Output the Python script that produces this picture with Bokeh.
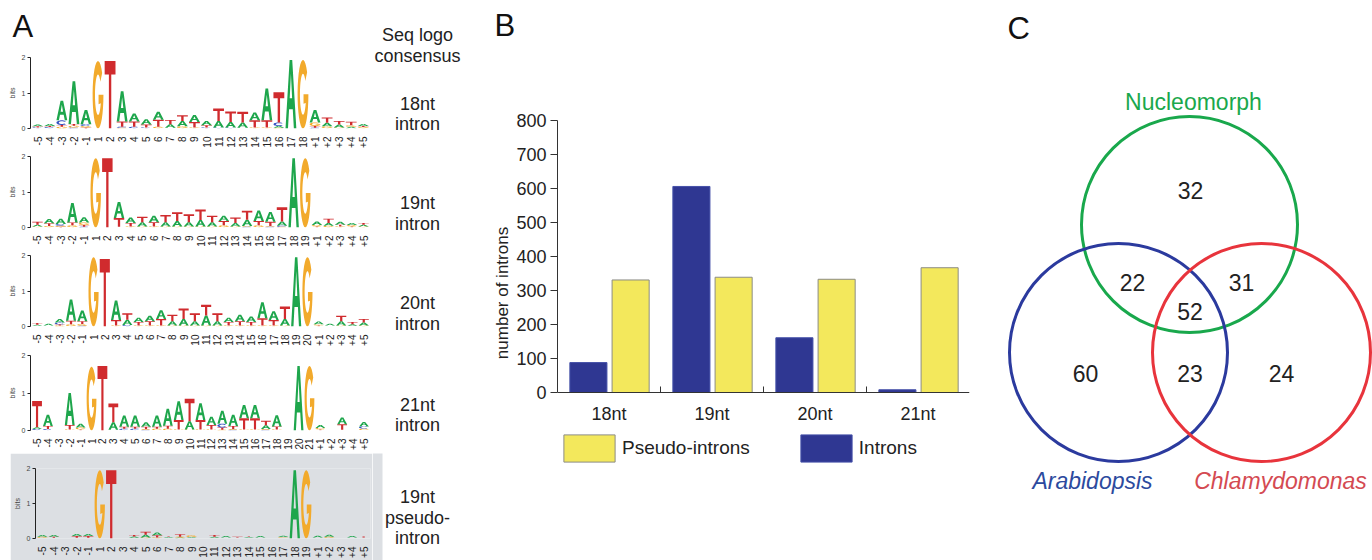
import math
from bokeh.plotting import figure
from bokeh.layouts import row, column
from bokeh.models import Range1d, FixedTicker, Legend, LegendItem, ColumnDataSource, Spacer
from bokeh.transform import dodge
from bokeh.core.properties import value
from bokeh.embed import file_html
from bokeh.resources import INLINE

FONT = "Liberation Sans"

# ---------------- Panel A data: information content (bits) per base ----------------
lab18 = ["-5", "-4", "-3", "-2", "-1"] + [str(i) for i in range(1, 19)] + ["+1", "+2", "+3", "+4", "+5"]
A18 = [.05, .06, .55, 1.2, .4, 0, 0, .85, .22, .15, .22, .1, .15, .2, .12, .18, .15, .15, .22, .9, .05, 1.93, 0, .35, .1, .08, .04, .06]
C18 = [.02, .03, .13, .03, .05, 0, 0, .03, .04, .02, .01, .01, .01, .01, .02, .02, .02, .01, .01, .01, .1, 0, 0, .02, .01, .01, .01, .01]
G18 = [.01, .01, .05, .05, .04, 1.9, 0, .02, .01, .01, .04, .01, .05, .02, .01, .01, .01, .01, .02, .02, .02, 0, 1.93, .1, .05, .02, .04, .03]
T18 = [.03, .03, .05, .05, .03, 0, 1.9, .15, .15, .08, .2, .12, .16, .15, .06, .35, .3, .3, .2, .2, .85, 0, 0, .05, .15, .1, .1, .03]

lab19 = ["-5", "-4", "-3", "-2", "-1"] + [str(i) for i in range(1, 20)] + ["+1", "+2", "+3", "+4", "+5"]
A19 = [.05, .12, .15, .55, .15, 0, 0, .45, .15, .12, .18, .12, .15, .12, .18, .12, .15, .1, .18, .3, .28, .12, 1.95, 0, .1, .08, .08, .06, .05]
C19 = [.01, .01, .05, .01, .02, 0, 0, .01, .01, .01, .01, .01, .01, .01, .01, .01, .01, .01, .02, .01, .02, .03, 0, 0, .01, .01, .01, .01, .01]
G19 = [.02, .03, .03, .05, .07, 1.95, 0, .01, .02, .02, .02, .02, .02, .02, .02, .02, .05, .02, .02, .05, .02, .02, 0, 1.95, .04, .04, .02, .04, .02]
T19 = [.08, .08, .02, .08, .05, 0, 1.95, .25, .1, .15, .12, .2, .25, .22, .3, .18, .12, .15, .25, .12, .12, .4, 0, 0, .02, .12, .05, .02, .05]

lab20 = ["-5", "-4", "-3", "-2", "-1"] + [str(i) for i in range(1, 21)] + ["+1", "+2", "+3", "+4", "+5"]
A20 = [.03, .05, .1, .6, .3, 0, 0, .55, .15, .12, .15, .25, .12, .18, .12, .28, .12, .12, .18, .15, .45, .25, .18, 1.95, 0, .08, .05, .12, .04, .08]
C20 = [.01, .01, .05, .01, .02, 0, 0, .01, .03, .01, .01, .01, .01, .01, .01, .01, .01, .01, .01, .01, .01, .01, .01, 0, 0, .01, .01, .01, .01, .01]
G20 = [.01, .01, .03, .05, .05, 1.95, 0, .02, .01, .02, .02, .02, .02, .02, .02, .02, .02, .02, .02, .02, .02, .02, .02, 0, 1.95, .03, .01, .02, .01, .02]
T20 = [.05, .01, .03, .1, .08, 0, 1.9, .15, .18, .1, .12, .18, .18, .3, .22, .3, .22, .1, .12, .1, .2, .15, .35, 0, 0, .02, .01, .15, .07, .1]

lab21 = ["-5", "-4", "-3", "-2", "-1"] + [str(i) for i in range(1, 22)] + ["+1", "+2", "+3", "+4", "+5"]
A21 = [.05, .3, .01, .85, .1, 0, 0, .2, .3, .3, .12, .3, .45, .5, .22, .45, .22, .35, .3, .35, .35, .1, .3, 0, 1.72, 0, .08, 0, .18, 0, .12]
C21 = [.03, .03, 0, .01, .01, 0, 0, .01, .04, .04, .02, .01, .01, .01, .01, .01, .01, .1, .02, .01, .01, .02, .01, 0, 0, 0, .01, 0, .01, 0, .06]
G21 = [.01, .01, .01, .02, .05, 1.7, 0, .01, .01, .01, .02, .04, .04, .02, .02, .02, .02, .02, .02, .02, .02, .02, .02, 0, 0, 1.72, .04, 0, .01, 0, .04]
T21 = [.7, .08, .01, .12, .02, 0, 1.72, .5, .05, .05, .06, .05, .08, .25, .6, .25, .12, .06, .08, .3, .3, .12, .08, 0, 0, 0, .02, 0, .15, 0, .01]

labP = lab19
AP = [.05, .05, .01, .06, .06, 0, 0, .01, .04, .08, .08, .02, .02, .02, .01, .03, .04, .01, .02, .04, .01, .04, 1.95, 0, .05, .06, 0, .04, .01]
CP = [.01, .01, .01, .01, .01, 0, 0, 0, .01, .01, .01, .01, .01, .01, .01, .01, .01, .01, .01, .01, .01, .01, 0, 0, .01, .01, 0, .01, .01]
GP = [.03, .01, .01, .01, .01, 1.95, 0, 0, .01, .02, .02, .01, .02, .05, .01, .01, .01, .01, .01, .01, .01, .02, 0, 1.95, .01, .03, 0, .01, .01]
TP = [.01, .03, .01, .05, .05, 0, 1.95, 0, .04, .08, .06, .02, .07, .01, .01, .05, .01, .02, .02, .01, .01, .01, 0, 0, .01, .01, 0, .01, .03]

logo_names = ["Seq logo\nconsensus", "18nt\nintron", "19nt\nintron", "20nt\nintron", "21nt\nintron", "19nt\npseudo-\nintron"]

# ---------------- Panel B data ----------------
lengths = ["18nt", "19nt", "20nt", "21nt"]
introns = [88, 606, 161, 8]
pseudo_introns = [331, 339, 333, 367]

# ---------------- Panel C data ----------------
sets = ["Nucleomorph", "Arabidopsis", "Chlamydomonas"]
only_nucleo, nucleo_arab, nucleo_chlamy, all_three = 32, 22, 31, 52
only_arab, arab_chlamy, only_chlamy = 60, 23, 24

# ---------------- styling ----------------
BASE_COLORS = {"A": "#1ea64c", "C": "#3552c2", "G": "#f2aa2c", "T": "#d02b2e"}
BLUE = "#2f3792"
YELLOW = "#f3e85c"
GREY_BOX = "#dcdfe3"


def arc(cx, cy, rx, ry, a0, a1, n=28):
    pts = []
    for i in range(n + 1):
        a = math.radians(a0 + (a1 - a0) * i / n)
        pts.append((cx + rx * math.cos(a), cy + ry * math.sin(a)))
    return pts


SHAPES = {
    "A": [[(0, 0), (0.38, 1), (0.62, 1), (1, 0), (0.77, 0), (0.67, 0.28), (0.33, 0.28), (0.23, 0)],
          [(0.39, 0.44), (0.61, 0.44), (0.5, 0.8)]],
    "T": [[(0, 1), (1, 1), (1, 0.8), (0.61, 0.8), (0.61, 0), (0.39, 0), (0.39, 0.8), (0, 0.8)]],
    "C": [arc(.5, .5, .5, .5, 40, 320) + arc(.5, .5, .28, .3, 320, 40)],
    "G": [arc(.5, .5, .5, .5, 40, 360) + [(1, 0.5), (0.55, 0.5), (0.55, 0.36)] + arc(.5, .5, .28, .3, 335, 40)],
}


def logo_source(A, C, G, T):
    heights = {"A": A, "C": C, "G": G, "T": T}
    xs, ys, cols = [], [], []
    for i in range(len(A)):
        stack = sorted([(heights[b][i], b) for b in "ACGT"])
        y0 = 0.0
        for h, b in stack:
            if h >= 0.02:
                rx, ry = [], []
                for ring in SHAPES[b]:
                    rx.append([i - 0.45 + u * 0.9 for u, v in ring])
                    ry.append([y0 + v * h for u, v in ring])
                xs.append([rx])
                ys.append([ry])
                cols.append(BASE_COLORS[b])
            y0 += h
    return ColumnDataSource(dict(xs=xs, ys=ys, color=cols))


def plain(p):
    p.axis.visible = False
    p.xgrid.visible = False
    p.ygrid.visible = False
    p.outline_line_color = None


def logo_fig(A, C, G, T, labels, height, top, bottom, bg="white", width=372, left=30, right=2):
    n = len(labels)
    p = figure(width=width, height=height, x_range=Range1d(-0.6, n - 0.4), y_range=Range1d(0, 2.0),
               output_backend="svg", toolbar_location=None,
               min_border_left=left, min_border_right=right, min_border_top=top, min_border_bottom=bottom)
    p.background_fill_color = bg
    p.border_fill_color = bg
    p.outline_line_color = None
    p.xgrid.visible = False
    p.ygrid.visible = False
    p.multi_polygons(xs="xs", ys="ys", fill_color="color", line_color=None, source=logo_source(A, C, G, T))
    xa = p.xaxis[0]
    xa.ticker = FixedTicker(ticks=list(range(n)))
    xa.major_label_overrides = {i: lab for i, lab in enumerate(labels)}
    xa.major_label_orientation = math.pi / 2
    xa.axis_line_color = None
    xa.major_tick_line_color = None
    xa.minor_tick_line_color = None
    xa.major_label_standoff = 2
    xa.major_label_text_font = FONT
    xa.major_label_text_font_size = "10px"
    xa.major_label_text_color = "#222222"
    ya = p.yaxis[0]
    ya.ticker = FixedTicker(ticks=[0, 1, 2])
    ya.axis_label = "bits"
    ya.axis_label_text_font = FONT
    ya.axis_label_text_font_style = "normal"
    ya.axis_label_text_font_size = "7px"
    ya.axis_label_standoff = 3
    ya.major_label_text_font = FONT
    ya.major_label_text_font_size = "7px"
    ya.major_label_standoff = 2
    ya.major_tick_in = 0
    ya.major_tick_out = 3
    ya.minor_tick_line_color = None
    ya.axis_line_color = "#222222"
    ya.major_tick_line_color = "#222222"
    return p


# header of panel A
hA = figure(width=372, height=51, x_range=Range1d(0, 372), y_range=Range1d(51, 0),
            output_backend="svg", toolbar_location=None, min_border=0)
plain(hA)
hA.text(x=[12], y=[26], text=["A"], text_font=value(FONT), text_font_size="31px",
        text_color="#111111", text_baseline="middle", text_align="left")

l1 = logo_fig(A18, C18, G18, T18, lab18, 99, 6, 18)
l2 = logo_fig(A19, C19, G19, T19, lab19, 99, 6, 18)
l3 = logo_fig(A20, C20, G20, T20, lab20, 99, 6, 18)
l4 = logo_fig(A21, C21, G21, T21, lab21, 105, 7, 23)
l5 = logo_fig(AP, CP, GP, TP, labP, 107, 15, 20, bg=GREY_BOX, width=362, left=20, right=2)

colA = column(row(hA), l1, l2, l3, l4, row(Spacer(width=10, height=107), l5), spacing=0)

# right-hand labels of panel A
lab = figure(width=106, height=560, x_range=Range1d(0, 106), y_range=Range1d(560, 0),
             output_backend="svg", toolbar_location=None, min_border=0)
plain(lab)
lab.quad(left=[0], right=[10], top=[453], bottom=[560], fill_color=GREY_BOX, line_color=None)
label_centres = [45, 113.5, 213, 313, 414.5, 517]
txt_x, txt_y, txt = [], [], []
for yc, name in zip(label_centres, logo_names):
    lines = name.split("\n")
    for k, line in enumerate(lines):
        txt_x.append(45)
        txt_y.append(yc + (k - (len(lines) - 1) / 2) * 20.5)
        txt.append(line)
lab.text(x=txt_x, y=txt_y, text=txt, text_font=value(FONT), text_font_size="18px",
         text_color="#222222", text_align="center", text_baseline="middle")

# ---------------- Panel B ----------------
hB = figure(width=512, height=51, x_range=Range1d(0, 512), y_range=Range1d(51, 0),
            output_backend="svg", toolbar_location=None, min_border=0)
plain(hB)
hB.text(x=[16], y=[25], text=["B"], text_font=value(FONT), text_font_size="31px",
        text_color="#111111", text_baseline="middle", text_align="left")

# frame spans 120..465 px; 0..800 occupies 120..392 (0.34 px per intron)
pB = figure(width=512, height=509, x_range=Range1d(0, 4), y_range=Range1d(-73 / 0.34, 800),
            output_backend="svg", toolbar_location=None,
            min_border_left=79, min_border_right=21, min_border_top=69, min_border_bottom=95)
pB.outline_line_color = None
pB.xgrid.visible = False
pB.ygrid.visible = False
centres = [i + 0.5 for i in range(len(lengths))]
srcB = ColumnDataSource(dict(x=centres, introns=introns, pseudo=pseudo_introns))
rI = pB.vbar(x=dodge("x", -0.2), top="introns", width=0.36, source=srcB,
             fill_color=BLUE, line_color="#4450a8", line_width=1)
rP = pB.vbar(x=dodge("x", 0.21), top="pseudo", width=0.36, source=srcB,
             fill_color=YELLOW, line_color="#8c8c84", line_width=1)

xb = pB.xaxis[0]
xb.fixed_location = 0
xb.ticker = FixedTicker(ticks=centres, minor_ticks=[1, 2, 3])
xb.major_label_overrides = {c: l for c, l in zip(centres, lengths)}
xb.major_tick_line_color = None
xb.minor_tick_in = 6
xb.minor_tick_out = 0
xb.minor_tick_line_color = "#333333"
xb.axis_line_color = "#333333"
xb.major_label_standoff = 5
xb.major_label_text_font = FONT
xb.major_label_text_font_size = "18px"
xb.major_label_text_color = "#222222"

yb = pB.yaxis[0]
yb.bounds = (0, 800)
yb.ticker = FixedTicker(ticks=[0, 100, 200, 300, 400, 500, 600, 700, 800])
yb.major_tick_out = 7
yb.major_tick_in = 0
yb.minor_tick_line_color = None
yb.axis_line_color = "#333333"
yb.major_tick_line_color = "#333333"
yb.major_label_standoff = 4
yb.major_label_text_font = FONT
yb.major_label_text_font_size = "18px"
yb.major_label_text_color = "#222222"
yb.axis_label = "number of introns"
yb.axis_label_text_font = FONT
yb.axis_label_text_font_style = "normal"
yb.axis_label_text_font_size = "17px"
yb.axis_label_text_color = "#222222"
yb.axis_label_standoff = 1

legend = Legend(items=[LegendItem(label="Pseudo-introns", renderers=[rP]),
                       LegendItem(label="Introns", renderers=[rI])],
                location="bottom_left", orientation="horizontal",
                glyph_width=64, glyph_height=34, label_height=34,
                label_standoff=1, spacing=44, padding=0, margin=0,
                label_text_font=FONT, label_text_font_size="19px", label_text_color="#222222",
                border_line_color=None, background_fill_alpha=0)
pB.add_layout(legend, "center")
colB = column(row(hB), row(pB), spacing=0)

# ---------------- Panel C ----------------
pC = figure(width=382, height=560, x_range=Range1d(0, 382), y_range=Range1d(560, 0),
            output_backend="svg", toolbar_location=None, min_border=0)
plain(pC)
cx = [199, 128, 271]
cy = [224, 352, 352]
rad = [108, 109, 109]
ring_colors = ["#19a84c", "#2b3a9e", "#e8343c"]
pC.circle(x=cx, y=cy, radius=rad, fill_color=None, line_color=ring_colors, line_width=3)

counts = [only_nucleo, nucleo_arab, nucleo_chlamy, all_three, only_arab, arab_chlamy, only_chlamy]
mid = (cx[1] + cx[2]) / 2
nx = [cx[0] + 1, cx[1] + 14, cx[2] - 20, mid, cx[1] - 33, mid, cx[2] + 20]
ny = [cy[0] - 34, cy[1] - 70, cy[2] - 70, cy[1] - 41, cy[1] + 21, cy[1] + 21, cy[2] + 21]
pC.text(x=nx, y=ny, text=[str(c) for c in counts], text_font=value(FONT), text_font_size="23px",
        text_color="#222222", text_align="center", text_baseline="middle")
pC.text(x=[cx[0] + 4], y=[101], text=[sets[0]], text_font=value(FONT), text_font_size="23px",
        text_color="#1aa84c", text_align="center", text_baseline="middle")
pC.text(x=[cx[1] - 26, cx[2] + 19], y=[480, 480], text=sets[1:], text_font=value(FONT),
        text_font_size="23px", text_font_style="italic", text_color=["#2c4a9e", "#d44a52"],
        text_align="center", text_baseline="middle")
pC.text(x=[17], y=[28], text=["C"], text_font=value(FONT), text_font_size="31px",
        text_color="#111111", text_align="left", text_baseline="middle")

layout = row(colA, column(lab), colB, column(pC), spacing=0)

with open("out.html", "w") as f:
    f.write(file_html(layout, INLINE))
